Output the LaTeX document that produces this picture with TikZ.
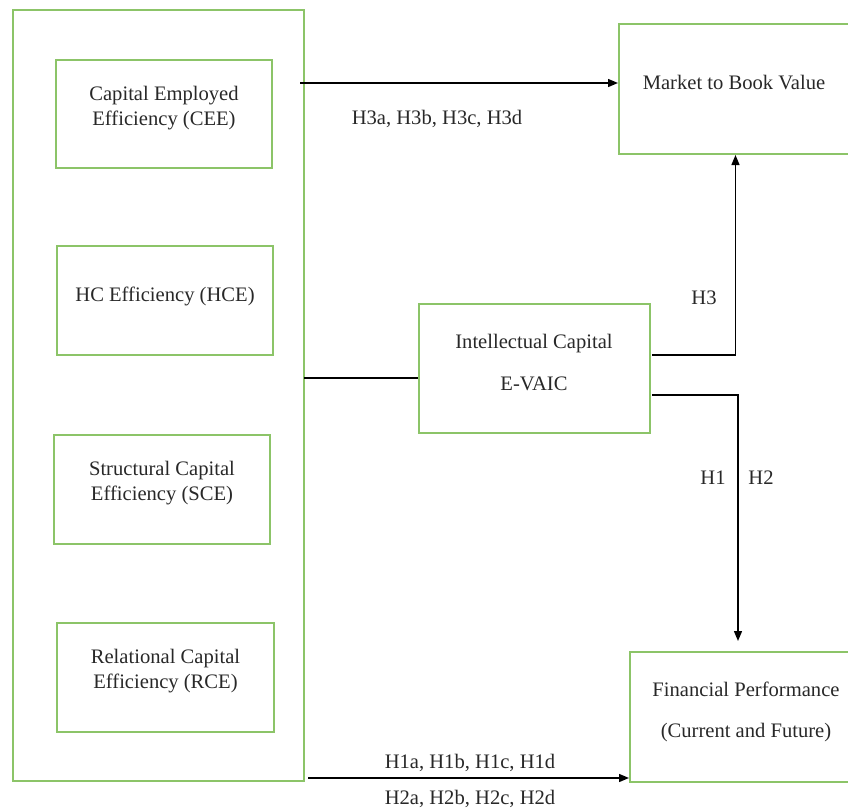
\documentclass[tikz,border=0pt]{standalone}
\usepackage{fontspec}
\setmainfont{Liberation Serif}
\usetikzlibrary{arrows.meta}
\definecolor{boxgreen}{RGB}{140,196,104}
\definecolor{txt}{RGB}{40,40,40}
\begin{document}
\begin{tikzpicture}[x=0.5pt,y=-0.5pt,
  gbox/.style={draw=boxgreen,line width=1pt,minimum width=#1,inner sep=0pt},
  lbl/.style={text=txt,font=\fontsize{10.3}{12.5}\selectfont,align=center,inner sep=0pt},
  conn/.style={draw=black,line width=0.7pt},
  arr/.style={conn,-{Triangle[length=5pt,width=4pt]}}]
\useasboundingbox (0,0) rectangle (848,809);
% boxes
\node[gbox=145.5pt,minimum height=385.5pt] (outer) at (158.5,395.5) {};
\node[gbox=108pt,minimum height=54pt] (cee) at (164,114) {};
\node[gbox=108pt,minimum height=54.5pt] (hce) at (165,300.5) {};
\node[gbox=108pt,minimum height=54.5pt] (sce) at (162,489.5) {};
\node[gbox=108.5pt,minimum height=54.5pt] (rce) at (165.5,677.5) {};
\node[gbox=116.5pt,minimum height=65pt] (mbv) at (735.5,89) {};
\node[gbox=115.5pt,minimum height=64.5pt] (ic) at (534.5,368.5) {};
\node[gbox=111pt,minimum height=65pt] (fp) at (741,717) {};
% box texts
\node[lbl] (ceet) at (164,108) {Capital Employed\\Efficiency (CEE)};
\node[lbl] (hcet) at (165,296) {HC Efficiency (HCE)};
\node[lbl] (scet) at (162,483) {Structural Capital\\Efficiency (SCE)};
\node[lbl] (rcet) at (165.5,671) {Relational Capital\\Efficiency (RCE)};
\node[lbl] (mbvt) at (734,83) {Market to Book Value};
\node[lbl,font=\fontsize{10.3}{21}\selectfont] (ict) at (534,363) {Intellectual Capital\\E-VAIC};
\node[lbl,font=\fontsize{10.3}{20.5}\selectfont] (fpt) at (746,712) {Financial Performance\\(Current and Future)};
% connectors
\coordinate (a1) at (300,83);
\draw[arr] (a1) -- (a1 -| mbv.west);
\coordinate (b1) at (304,378);
\draw[conn] (b1) -- (b1 -| ic.west);
\coordinate (c1) at (652,355);
\draw[arr] (c1) -| (mbv.south);
\coordinate (d1) at (652,395);
\coordinate (d2) at (738,641);
\draw[arr] (d1) -| (d2);
\coordinate (e1) at (308,778);
\draw[arr] (e1) -- (e1 -| fp.west);
% labels
\node[lbl] (l3abcd) at (437,119) {H3a, H3b, H3c, H3d};
\node[lbl] (l3) at (704,298) {H3};
\node[lbl] (l1) at (713,478) {H1};
\node[lbl] (l2) at (761,478) {H2};
\node[lbl] (l1abcd) at (470,763) {H1a, H1b, H1c, H1d};
\node[lbl] (l2abcd) at (470,799) {H2a, H2b, H2c, H2d};
\end{tikzpicture}
\end{document}
